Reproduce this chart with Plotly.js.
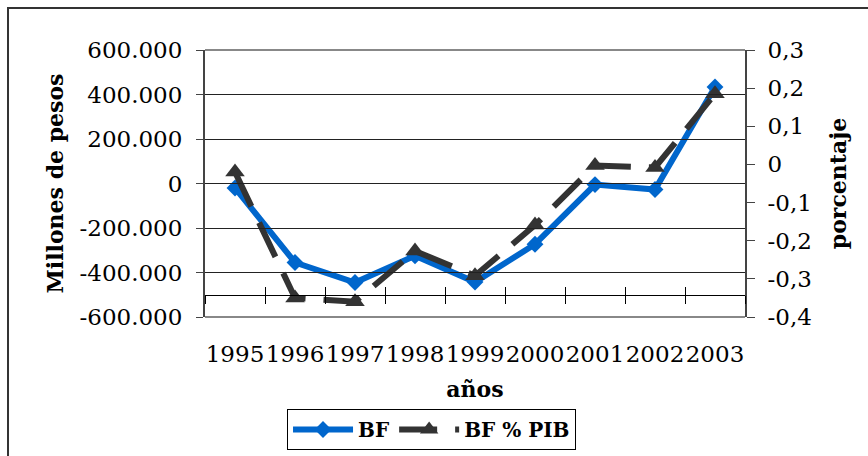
<!DOCTYPE html>
<html><head><meta charset="utf-8">
<script src="https://cdn.plot.ly/plotly-3.0.1.min.js"></script>
<style>html,body{margin:0;padding:0;background:#fff}#chart{width:868px;height:456px}</style>
</head><body><div id="chart"></div>
<script>
const years = ['1995','1996','1997','1998','1999','2000','2001','2002','2003'];
const bf = [-20000, -355000, -445000, -325000, -443000, -273000, -5000, -27000, 434000];
const bfPib = [-0.02, -0.35, -0.36, -0.227, -0.292, -0.159, -0.003, -0.008, 0.185];
const leftTickVals = [600000, 400000, 200000, 0, -200000, -400000, -600000];
const leftTickText = ['600.000','400.000','200.000','0','-200.000','-400.000','-600.000'];
const rightTickVals = [0.3, 0.2, 0.1, 0, -0.1, -0.2, -0.3, -0.4];
const rightTickText = ['0,3','0,2','0,1','0','-0,1','-0,2','-0,3','-0,4'];

const FONT = 'DejaVu Serif';
const traces = [
  {x: years, y: bf, xaxis: 'x', yaxis: 'y', name: 'BF', mode: 'lines+markers',
   line: {color: '#0066CC', width: 6},
   marker: {symbol: 'diamond', size: 13, color: '#0066CC'}},
  {x: years, y: bfPib, xaxis: 'x3', yaxis: 'y2', name: 'BF % PIB', mode: 'lines+markers',
   line: {color: '#333333', width: 6, dash: '38px,18px'},
   marker: {symbol: 'triangle-up', size: 17, color: '#333333'}},
  {x: years, y: years.map(() => null), xaxis: 'x2', yaxis: 'y', mode: 'markers',
   showlegend: false, hoverinfo: 'skip', marker: {opacity: 0}}
];
const layout = {
  width: 868, height: 456,
  margin: {l: 205, r: 123, t: 50, b: 139, autoexpand: false},
  paper_bgcolor: '#fff', plot_bgcolor: 'rgba(0,0,0,0)',
  font: {family: FONT, size: 20, color: '#000'},
  showlegend: true,
  xaxis: {type: 'category', range: [-0.5, 8.5], domain: [0, 1], anchor: 'free', position: 0.0833,
    showline: true, linecolor: '#000', linewidth: 1, ticks: 'outside', tickson: 'boundaries',
    ticklen: 8, tickcolor: '#000', tickwidth: 1, showticklabels: false, showgrid: false, zeroline: false},
  xaxis3: {type: 'category', overlaying: 'x', range: [-0.5, 8.5], anchor: 'free', position: 0.0833,
    showline: false, ticks: 'inside', tickson: 'boundaries', ticklen: 8, tickcolor: '#000', tickwidth: 1,
    showticklabels: false, showgrid: false, zeroline: false},
  xaxis2: {type: 'category', anchor: 'y', domain: [0, 1], range: [-0.5, 8.5],
    ticks: '', tickangle: 0, showline: false, showgrid: false,
    zeroline: false, tickfont: {family: FONT, size: 23}, ticklabelstandoff: 21,
    title: {text: 'años', standoff: 15, font: {family: FONT, size: 22, weight: 'bold'}}},
  yaxis: {range: [-600000, 600000], tickmode: 'array', tickvals: leftTickVals, ticktext: leftTickText,
    ticks: 'outside', ticklen: 7, tickcolor: '#444', showline: true, linecolor: '#444', linewidth: 2,
    showgrid: true, gridcolor: '#222', gridwidth: 1, zeroline: false, ticklabelstandoff: 9,
    tickfont: {family: FONT, size: 23},
    title: {text: 'Millones de pesos', standoff: 10, font: {family: FONT, size: 22, weight: 'bold'}}},
  yaxis2: {overlaying: 'y', side: 'right', anchor: 'x', range: [-0.4, 0.3], tickmode: 'array',
    tickvals: rightTickVals, ticktext: rightTickText, ticks: 'outside', ticklen: 8, tickcolor: '#444',
    showline: true, linecolor: '#444', linewidth: 2, showgrid: false, zeroline: false,
    ticklabelstandoff: 8, tickfont: {family: FONT, size: 23},
    title: {text: 'porcentaje', standoff: 20, font: {family: FONT, size: 22, weight: 'bold'}}},
  legend: {orientation: 'h', x: 0.1519, xanchor: 'left',
    y: -0.3445, yanchor: 'top',
    bordercolor: '#000', borderwidth: 1, bgcolor: '#fff', itemwidth: 60,
    font: {family: FONT, size: 20, weight: 'bold'}},
  shapes: [
    {type: 'rect', xref: 'paper', yref: 'paper', x0: -0.3648, x1: 2, y0: -1, y1: 1.1573,
     line: {color: '#333', width: 2}, layer: 'below'},
    {type: 'line', xref: 'paper', yref: 'paper', x0: 0, x1: 1, y0: 1, y1: 1,
     line: {color: '#888', width: 2}, layer: 'above'},
    {type: 'line', xref: 'paper', yref: 'paper', x0: 0, x1: 1, y0: 0, y1: 0,
     line: {color: '#888', width: 2}, layer: 'above'}
  ]
};
Plotly.newPlot('chart', traces, layout, {displayModeBar: false, staticPlot: true});
</script></body></html>
